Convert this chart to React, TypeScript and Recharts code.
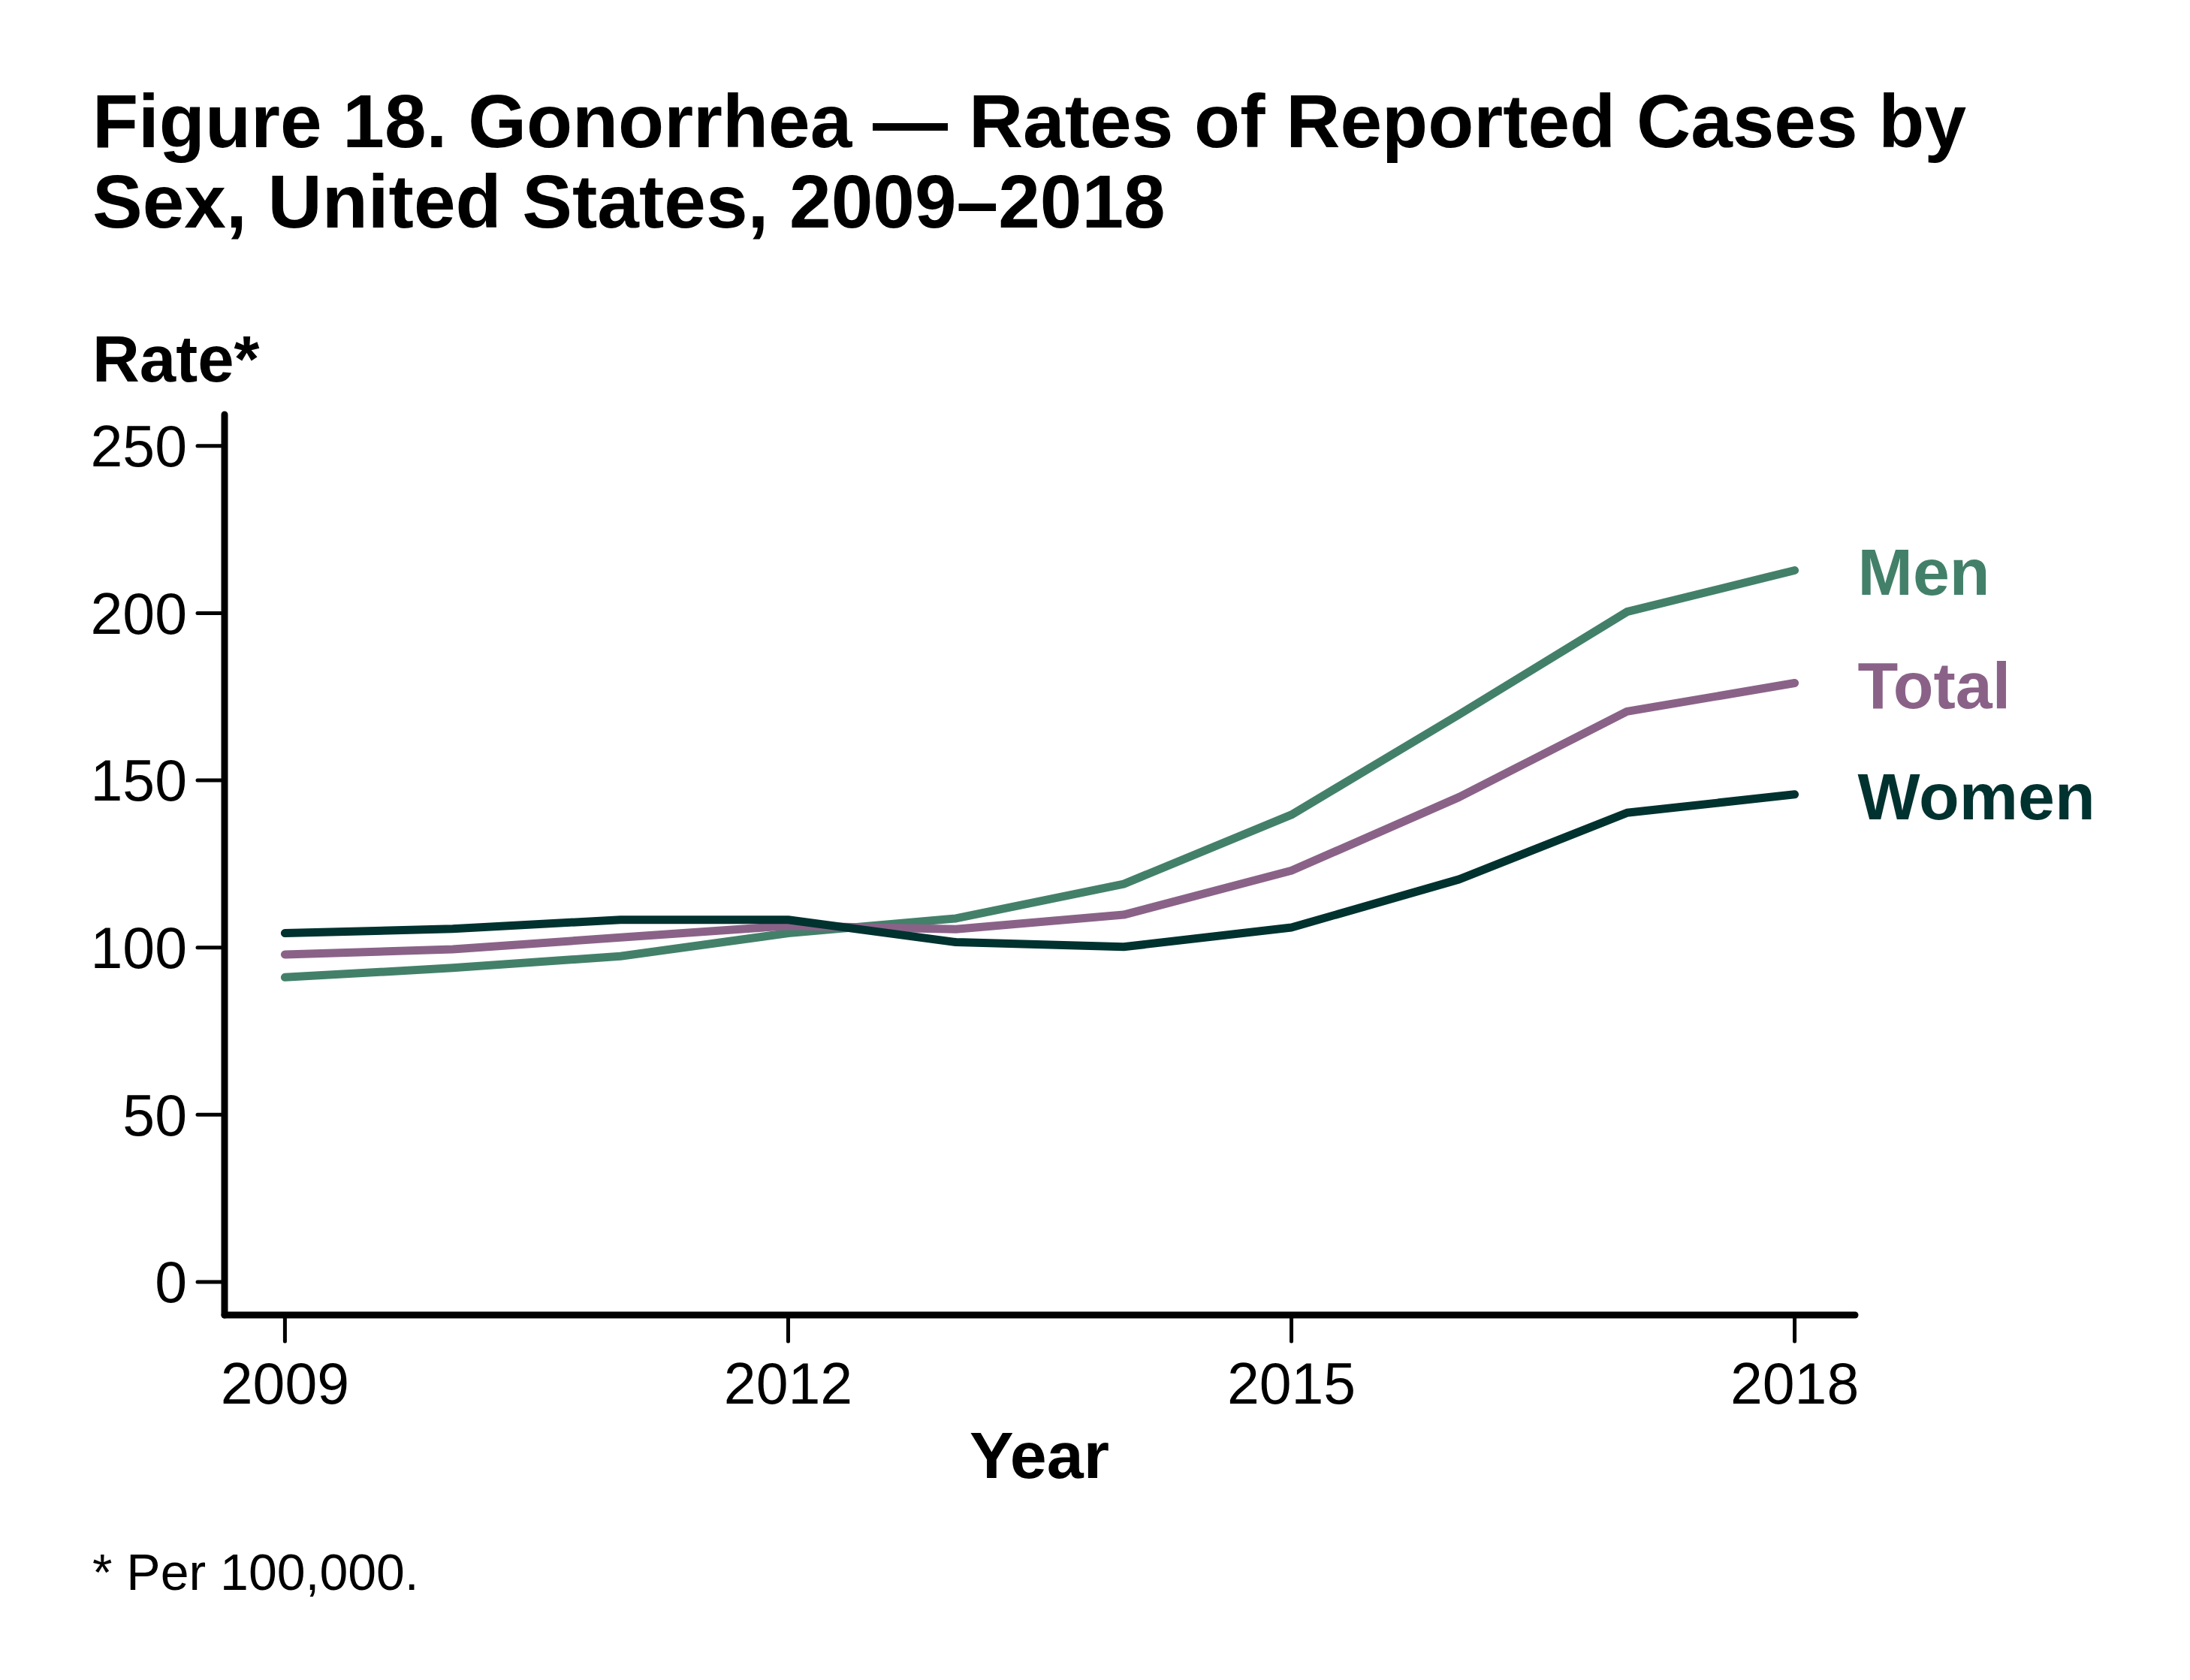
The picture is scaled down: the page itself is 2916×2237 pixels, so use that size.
import { LineChart, Line, XAxis, YAxis } from "recharts";

const FONT = '"Liberation Sans", Arial, Helvetica, sans-serif';

// Rates per 100,000
const years = [2009, 2010, 2011, 2012, 2013, 2014, 2015, 2016, 2017, 2018];
const men = [91.1, 93.9, 97.4, 104.3, 108.7, 119.0, 139.7, 169.7, 200.4, 212.8];
const women = [104.3, 105.6, 108.3, 108.3, 101.6, 100.2, 106.0, 120.4, 140.3, 145.8];
const total = [97.9, 99.5, 103.0, 106.5, 105.5, 109.8, 123.0, 145.0, 170.6, 179.1];

const xTicks = [2009, 2012, 2015, 2018];
const yTicks = [0, 50, 100, 150, 200, 250];

const series = [
  { key: "men", name: "Men", color: "#43806a" },
  { key: "total", name: "Total", color: "#8a6288" },
  { key: "women", name: "Women", color: "#00322f" },
];

const data = years.map((year, i) => ({
  year,
  men: men[i],
  women: women[i],
  total: total[i],
}));

// draws the series name just right of its last point
const endLabel = (name: string, color: string) => (props: any) => {
  const { x, y, index } = props;
  if (index !== years.length - 1) return null;
  return (
    <text
      x={x + 84}
      y={y + 33}
      fill={color}
      fontSize={88}
      fontWeight="bold"
      fontFamily={FONT}
    >
      {name}
    </text>
  );
};

export default function App() {
  return (
    <div
      style={{
        position: "absolute",
        left: 0,
        top: 0,
        width: 2916,
        height: 2237,
        background: "#fff",
      }}
    >
      <LineChart
        width={2916}
        height={2237}
        data={data}
        margin={{ top: 552, right: 446, bottom: 336, left: 99 }}
      >
        <XAxis
          dataKey="year"
          type="number"
          domain={[2008.64, 2018.36]}
          ticks={xTicks}
          allowDataOverflow
          height={150}
          axisLine={{ stroke: "#000", strokeWidth: 9, strokeLinecap: "round" }}
          tickLine={{ stroke: "#000", strokeWidth: 5, strokeLinecap: "round" }}
          tickSize={35}
          tickMargin={28}
          tick={{ fill: "#000", fontSize: 77, fontFamily: FONT }}
        />
        <YAxis
          type="number"
          domain={[-9.9, 259.4]}
          ticks={yTicks}
          allowDataOverflow
          width={200}
          axisLine={{ stroke: "#000", strokeWidth: 9, strokeLinecap: "round" }}
          tickLine={{ stroke: "#000", strokeWidth: 5, strokeLinecap: "round" }}
          tickSize={36}
          tickMargin={14}
          tick={{ fill: "#000", fontSize: 77, fontFamily: FONT }}
        />
        {series.map((s) => (
          <Line
            key={s.key}
            dataKey={s.key}
            type="linear"
            stroke={s.color}
            strokeWidth={11}
            strokeLinecap="round"
            strokeLinejoin="round"
            dot={false}
            activeDot={false}
            isAnimationActive={false}
            label={endLabel(s.name, s.color)}
          />
        ))}
      </LineChart>

      <svg
        width={2916}
        height={2237}
        style={{ position: "absolute", left: 0, top: 0, pointerEvents: "none" }}
      >
        <g fontFamily={FONT} fill="#000">
          <text x={123} y={196} fontSize={100} fontWeight="bold">
            Figure 18. Gonorrhea — Rates of Reported Cases by
          </text>
          <text x={123} y={303} fontSize={100} fontWeight="bold">
            Sex, United States, 2009–2018
          </text>
          <text x={123} y={508} fontSize={87} fontWeight="bold">
            Rate*
          </text>
          <text x={1384} y={1968} fontSize={88} fontWeight="bold" textAnchor="middle">
            Year
          </text>
          <text x={123} y={2117} fontSize={68}>
            * Per 100,000.
          </text>
        </g>
      </svg>
    </div>
  );
}
